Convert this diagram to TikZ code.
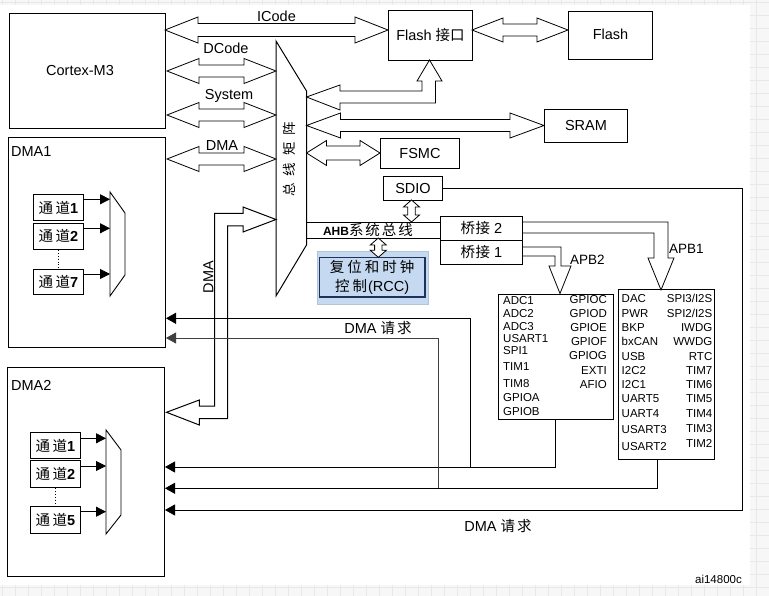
\documentclass[tikz,border=0pt]{standalone}
\usepackage{fontspec}
\setmainfont{Liberation Sans}
\newfontfamily\cjk{Noto Sans CJK SC}
\usetikzlibrary{arrows.meta}
\definecolor{rccfill}{RGB}{197,217,241}
\definecolor{rccline}{RGB}{30,50,92}
\newcommand\lblfont{\fontsize{14.5}{17}\selectfont}
\newcommand\smallfont{\fontsize{11.5}{13}\selectfont}
\newcommand\chl[1]{{\cjk 通\hspace{2.5pt}道}\textbf{#1}}
% box by corners (x1,y1) top-left, (x2,y2) bottom-right
\newcommand\boxat[6]{\node[bx, minimum width={#4-#2}, minimum height={#5-#3}, anchor=north west] (#1) at (#2,#3) {#6};}
% horizontal double bus arrow: left tip x, right tip x, y, head length, head half width, shaft half width
\newcommand\hbus[6]{\draw[bus] (#1,#3) -- ({#1+#4},{#3-#5}) -- ({#1+#4},{#3-#6}) -- ({#2-#4},{#3-#6}) -- ({#2-#4},{#3-#5}) -- (#2,#3) -- ({#2-#4},{#3+#5}) -- ({#2-#4},{#3+#6}) -- ({#1+#4},{#3+#6}) -- ({#1+#4},{#3+#5}) -- cycle;}
% vertical double bus arrow: x, top tip y, bottom tip y, head length, head half width, shaft half width
\newcommand\vbus[6]{\draw[bus] (#1,#2) -- ({#1+#5},{#2+#4}) -- ({#1+#6},{#2+#4}) -- ({#1+#6},{#3-#4}) -- ({#1+#5},{#3-#4}) -- (#1,#3) -- ({#1-#5},{#3-#4}) -- ({#1-#6},{#3-#4}) -- ({#1-#6},{#2+#4}) -- ({#1-#5},{#2+#4}) -- cycle;}
\newcommand\itl[3]{\node[item, anchor=west] at (#1,#2) {#3};}
\newcommand\itr[3]{\node[item, anchor=east] at (#1,#2) {#3};}
\tikzset{
  bx/.style={draw=black, line width=1pt, inner sep=0pt, fill=white, font=\lblfont},
  bus/.style={draw=black, line width=0.8pt, fill=white, line join=miter},
  req/.style={draw=black, line width=0.8pt, -{Triangle[length=10pt,width=11pt]}},
  chan/.style={draw=black, line width=0.8pt, -{Triangle[length=10pt,width=10pt]}},
  lbl/.style={font=\lblfont, inner sep=0pt},
  item/.style={font=\smallfont, inner sep=0pt, text height=8.2pt, text depth=0pt},
  gridc/.style={draw=black!9, line width=0.5pt},
}
\begin{document}
\begin{tikzpicture}[x=1pt,y=-1pt]
\useasboundingbox (0,0) rectangle (769,596);
% background
\fill[black!3] (0,0) rectangle (769,596);
\foreach \i in {2,15,...,769} \draw[gridc] (\i,0) -- (\i,596);
\foreach \j in {2,15,...,596} \draw[gridc] (0,\j) -- (769,\j);
\fill[white] (0,5) rectangle (750,585);

% main boxes
\boxat{cortex}{9}{13}{165}{128}{}
\node[lbl] (cortexlbl) at (80,71) {Cortex-M3};
\boxat{dmaone}{8}{137}{165}{347}{}
\node[lbl, anchor=west] (dmaonelbl) at (11,152) {DMA1};
\boxat{dmatwo}{7}{367}{164}{576}{}
\node[lbl, anchor=west] (dmatwolbl) at (11,385) {DMA2};
\boxat{flashif}{388}{10}{472}{60}{Flash {\cjk 接口}}
\boxat{flash}{568}{11}{652}{59}{\raisebox{3pt}{Flash}}
\boxat{sram}{544}{109}{627}{142}{SRAM}
\boxat{fsmc}{380}{138}{459}{168}{FSMC}
\boxat{sdio}{383}{176}{442}{200}{SDIO}
\boxat{bridgeb}{440}{216}{522}{240}{{\fontsize{14.5}{16}\selectfont\cjk 桥\hspace{0.5pt}接} 2}
\boxat{bridgea}{440}{240}{522}{264}{{\fontsize{14.5}{16}\selectfont\cjk 桥\hspace{0.5pt}接} 1}
\boxat{apbtwo}{498}{294}{613}{419}{}
\boxat{apbone}{618}{289}{714}{459}{}

% bus matrix
\draw[line width=1pt, fill=white] (276,41) -- (306.5,91) -- (306.5,245) -- (276,296) -- cycle;
\node[inner sep=0pt, rotate=90, font=\fontsize{13.5}{15}\selectfont\cjk] (matrix) at (289,159) {总\hspace{7pt}线\hspace{7pt}矩\hspace{7pt}阵};

% AHB bus
\draw[line width=0.9pt] (306.5,222) -- (bridgeb.west |- 0,222);
\draw[line width=0.9pt] (306.5,238) -- (bridgeb.west |- 0,238);
\node[inner sep=0pt] (ahb) at (368,230) {\fontsize{12}{14}\selectfont\textbf{AHB}{\fontsize{14.5}{16}\selectfont\cjk 系\hspace{2pt}统\hspace{2pt}总\hspace{2pt}线}};

% RCC
\node[fill=rccfill, draw=rccfill!75!gray, line width=0.6pt, minimum width=111pt, minimum height=53pt, inner sep=0pt] (rccbg) at (372.5,277.5) {};
\node[draw=rccline, line width=1.6pt, minimum width=105.5pt, minimum height=39.5pt, inner sep=0pt, align=center, font=\fontsize{14.5}{19}\selectfont] (rcc) at (372.2,277.2) {{\cjk 复\hspace{3pt}位\hspace{3pt}和\hspace{3pt}时\hspace{3pt}钟}\\{\cjk 控\hspace{3pt}制}\hspace{1pt}(RCC)};

% left buses
\hbus{165}{388}{30}{33}{13}{6.5}
\hbus{167}{276}{71}{32}{12.5}{6}
\hbus{167}{276}{115}{32}{12.5}{6}
\hbus{167}{276}{159}{32}{12.5}{6}
\node[lbl] (icode) at (276.5,16) {ICode};
\node[lbl] (dcode) at (226,48) {DCode};
\node[lbl] (system) at (229,96) {System};
\node[lbl] (dmabus) at (222,146) {DMA};

% right buses
\draw[bus] (306.5,97) -- (340,85) -- (340,91) -- (422,91) -- (422,81) -- (417,81) -- (429.5,60) -- (442,81) -- (435.5,81) -- (435.5,103) -- (340,103) -- (340,110) -- cycle;
\hbus{306.5}{544}{125.5}{34}{12.5}{6}
\hbus{306.5}{380}{153}{20}{12.5}{7}
\hbus{472}{568}{30}{31}{12}{6}
\vbus{411.5}{200}{222}{7}{8}{3.7}
\vbus{378.3}{238}{257.3}{7}{8}{3.7}

% DMA bus to DMA2
\draw[bus, line width=1pt] (276,219.5) -- (243,207) -- (243,213.3) -- (214.5,213.3) -- (214.5,406) -- (199.3,406) -- (199.3,400) -- (166.5,412.3) -- (199.3,425) -- (199.3,418.5) -- (227.7,418.5) -- (227.7,226) -- (243,226) -- (243,232) -- cycle;
\node[lbl, rotate=90] (dmavert) at (208.5,277) {DMA};

% APB buses
\draw[bus] (bridgeb.east |- 0,222) -- (668,222) -- (668,258) -- (674,258) -- (661,290) -- (648,258) -- (654,258) -- (654,233) -- (bridgeb.east |- 0,233);
\draw[bus] (bridgea.east |- 0,247) -- (561,247) -- (561,266) -- (571,266) -- (560,293.5) -- (549,266) -- (555,266) -- (555,256) -- (bridgea.east |- 0,256);
\node[inner sep=0pt, anchor=west, font=\fontsize{13.5}{15}\selectfont] (apbonelbl) at (669,249) {APB1};
\node[inner sep=0pt, anchor=west, font=\fontsize{13.5}{15}\selectfont] (apbtwolbl) at (570,260) {APB2};

% APB2 contents
\itl{503}{300}{ADC1}
\itl{503}{313}{ADC2}
\itl{503}{326}{ADC3}
\itl{503}{338}{USART1}
\itl{503}{350}{SPI1}
\itl{503}{366}{TIM1}
\itl{503}{383}{TIM8}
\itl{503}{397}{GPIOA}
\itl{503}{411}{GPIOB}
\itr{607}{299}{GPIOC}
\itr{607}{313}{GPIOD}
\itr{607}{327}{GPIOE}
\itr{607}{341}{GPIOF}
\itr{607}{355}{GPIOG}
\itr{607}{370}{EXTI}
\itr{607}{384}{AFIO}
% APB1 contents
\itl{621.5}{298}{DAC}
\itl{621.5}{313}{PWR}
\itl{621.5}{327}{BKP}
\itl{621.5}{341.5}{bxCAN}
\itl{621.5}{356}{USB}
\itl{621.5}{370}{I2C2}
\itl{621.5}{384.5}{I2C1}
\itl{621.5}{398.5}{UART5}
\itl{621.5}{413.5}{UART4}
\itl{621.5}{429}{USART3}
\itl{621.5}{446.5}{USART2}
\itr{712.5}{298}{SPI3/I2S}
\itr{712.5}{313}{SPI2/I2S}
\itr{712.5}{327}{IWDG}
\itr{712.5}{341.5}{WWDG}
\itr{712.5}{356}{RTC}
\itr{712.5}{370}{TIM7}
\itr{712.5}{384.5}{TIM6}
\itr{712.5}{398.5}{TIM5}
\itr{712.5}{413}{TIM4}
\itr{712.5}{428.5}{TIM3}
\itr{712.5}{443.5}{TIM2}

% DMA1 channels
\tikzset{bx/.append style={font=\fontsize{14.5}{16}\selectfont}}
\boxat{chaone}{33}{194}{83}{220}{\chl{1}}
\boxat{chatwo}{33}{222.7}{83}{249}{\chl{2}}
\boxat{chaseven}{33}{269.3}{83}{294}{\chl{7}}
\draw[line width=0.9pt] (110,192) -- (125,213) -- (125,275) -- (110,296) -- cycle;
\draw[chan] (chaone.east |- 0,199.3) -- (110,199.3);
\draw[chan] (chatwo.east |- 0,228.3) -- (110,228.3);
\draw[chan] (chaseven.east |- 0,274) -- (110,274);
\draw[line width=0.9pt, dotted] (chatwo.south) -- (chaseven.north);

% DMA2 channels
\boxat{chbone}{30}{431.7}{80}{458.3}{\chl{1}}
\boxat{chbtwo}{30}{460}{80}{487.3}{\chl{2}}
\boxat{chbfive}{30}{505.7}{80}{532.7}{\chl{5}}
\draw[line width=0.9pt] (106,430) -- (121,450) -- (121,515) -- (106,534) -- cycle;
\draw[chan] (chbone.east |- 0,438.3) -- (106,438.3);
\draw[chan] (chbtwo.east |- 0,466) -- (106,466);
\draw[chan] (chbfive.east |- 0,511.7) -- (106,511.7);
\draw[line width=0.9pt, dotted] (chbtwo.south) -- (chbfive.north);

% DMA requests
\draw[req, line width=1pt] (apbtwo.south -| 555,0) |- (dmatwo.east |- 0,467);
\draw[req, line width=1pt] (470.7,467) |- (dmaone.east |- 0,318.3);
\draw[req] (apbone.south -| 657.7,0) |- (dmatwo.east |- 0,488.3);
\draw[req, draw=black!75] (438.3,488.3) |- (dmaone.east |- 0,338);
\draw[req] (sdio.east) -| (742,510) -- (dmatwo.east |- 0,510);
\node[lbl] (reqa) at (378,328) {DMA {\cjk 请\hspace{2pt}求}};
\node[lbl] (reqb) at (498,526) {DMA {\cjk 请\hspace{2pt}求}};

\node[inner sep=0pt, anchor=east, font=\fontsize{11.5}{13}\selectfont] (fig) at (742,579) {ai14800c};
\end{tikzpicture}
\end{document}
